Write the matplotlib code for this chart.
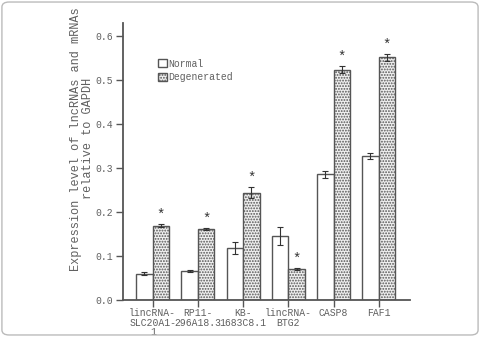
import matplotlib
matplotlib.use("Agg")
import matplotlib.pyplot as plt
import numpy as np
from matplotlib.patches import FancyBboxPatch

categories = ["lincRNA-\nSLC20A1-\n1", "RP11-\n296A18.3", "KB-\n1683C8.1",
              "lincRNA-\nBTG2", "CASP8", "FAF1"]
normal = [0.060, 0.066, 0.118, 0.145, 0.286, 0.327]
normal_err = [0.003, 0.002, 0.014, 0.020, 0.008, 0.007]
degenerated = [0.169, 0.161, 0.244, 0.070, 0.524, 0.552]
degenerated_err = [0.004, 0.003, 0.013, 0.003, 0.009, 0.008]
significant = [True, True, True, True, True, True]
yticks = [0.0, 0.1, 0.2, 0.3, 0.4, 0.5, 0.6]

plt.rcParams['font.family'] = ['Liberation Mono', 'DejaVu Sans Mono']
plt.rcParams['hatch.linewidth'] = 0.9
plt.rcParams['hatch.color'] = '#a8a8a8'

fig = plt.figure(figsize=(4.8, 3.37), dpi=100)
ax = fig.add_axes([0.256, 0.110, 0.598, 0.822])

edge = '#555555'
txt = '#606060'
x = np.arange(len(categories))
w = 0.365
ax.bar(x - w / 2, normal, w, color='white', edgecolor=edge, linewidth=1.0,
       label='Normal', zorder=2)
ax.bar(x + w / 2, degenerated, w, color='#f0f0f0', edgecolor=edge, linewidth=1.0,
       hatch='......', label='Degenerated', zorder=2)
ax.errorbar(x - w / 2, normal, yerr=normal_err, fmt='none', ecolor='#333333',
            elinewidth=0.8, capsize=2.2, capthick=0.8, zorder=3)
ax.errorbar(x + w / 2, degenerated, yerr=degenerated_err, fmt='none', ecolor='#333333',
            elinewidth=0.8, capsize=2.2, capthick=0.8, zorder=3)
for xi, v, e, s in zip(x, degenerated, degenerated_err, significant):
    if s:
        ax.text(xi + w / 2, v + e + 0.004, '*', ha='center', va='bottom',
                fontsize=10, color='#333333')

ax.set_xlim(-0.66, 5.69)
ax.set_ylim(0, 0.63)
ax.set_xticks(x)
ax.set_xticklabels(categories, fontsize=7, color=txt, linespacing=0.95)
ax.set_yticks(yticks)
ax.set_yticklabels([f"{t:.1f}" for t in yticks], fontsize=7, color=txt)
ax.tick_params(axis='both', direction='out', length=5, width=1.0, color=edge)
ax.tick_params(axis='x', pad=1)
ax.tick_params(axis='y', pad=2)
for s in ['top', 'right']:
    ax.spines[s].set_visible(False)
for s in ['left', 'bottom']:
    ax.spines[s].set_color(edge)
    ax.spines[s].set_linewidth(1.3)

leg = ax.legend(loc='upper left', bbox_to_anchor=(0.11, 0.885), frameon=False,
                fontsize=7, handlelength=0.9, handleheight=0.9, handletextpad=0.15,
                labelspacing=0.35, borderaxespad=0)
for t in leg.get_texts():
    t.set_color(txt)

fig.text(0.170, 0.588, 'Expression level of lncRNAs and mRNAs\nrelative to GAPDH',
         rotation=90, ha='center', va='center', fontsize=8.6, color=txt,
         multialignment='center', linespacing=1.0)

frame = FancyBboxPatch((0.004, 0.006), 0.992, 0.988, boxstyle='round,pad=0,rounding_size=0.015',
                       transform=fig.transFigure, facecolor='none', edgecolor='#bbbbbb',
                       linewidth=1.0)
fig.patches.append(frame)

fig.savefig('out.png', dpi=100)
